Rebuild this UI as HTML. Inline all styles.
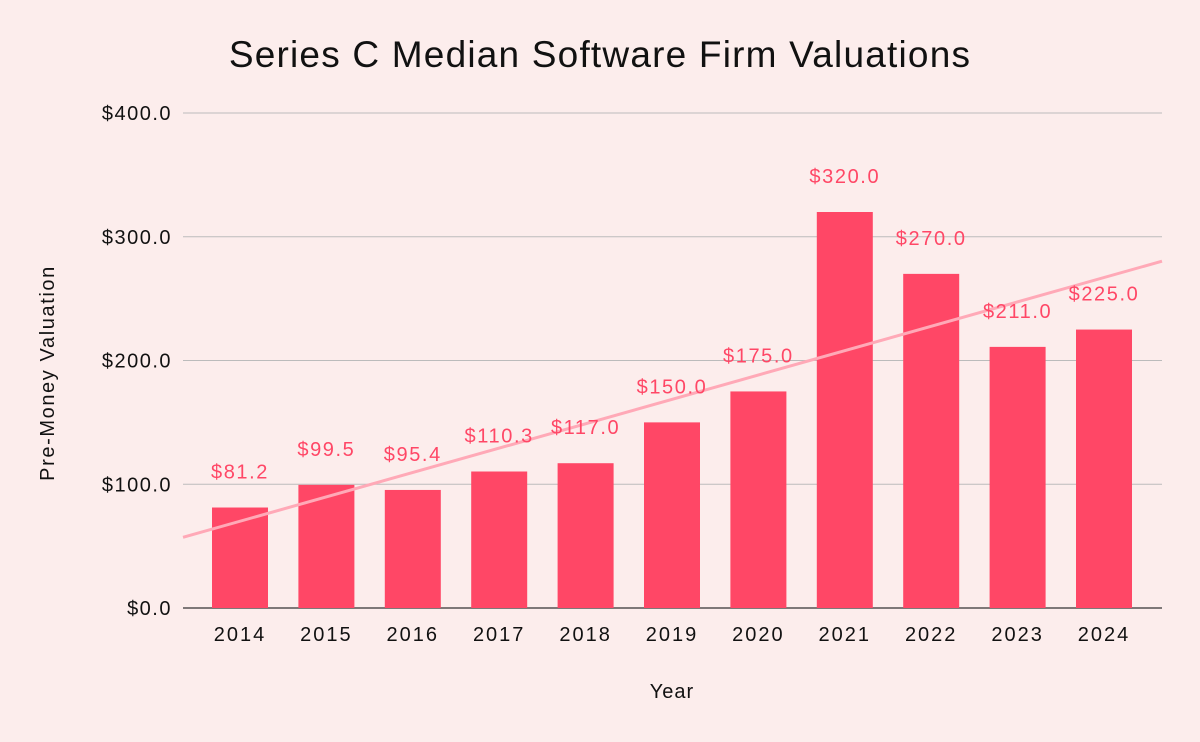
<!DOCTYPE html>
<html><head><meta charset="utf-8"><style>
body{margin:0;background:#fcedec;}
svg{display:block;font-family:"Liberation Sans",Arial,sans-serif;}
</style></head><body>
<svg id="chart" width="1200" height="742" viewBox="0 0 1200 742">
<rect width="1200" height="742" fill="#fcedec"/>
<text x="600" y="67" text-anchor="middle" font-size="37" letter-spacing="1.2" fill="#111">Series C Median Software Firm Valuations</text>
<text x="672" y="698" text-anchor="middle" font-size="20" letter-spacing="1" fill="#111">Year</text>
<text transform="translate(54,373) rotate(-90)" text-anchor="middle" font-size="20" letter-spacing="1.6" fill="#111">Pre-Money Valuation</text>
<g id="grid"></g><g id="bars"></g><g id="trend"></g><g id="labels"></g>
</svg>
<script>
const categories=["2014","2015","2016","2017","2018","2019","2020","2021","2022","2023","2024"];
const values=[81.2,99.5,95.4,110.3,117.0,150.0,175.0,320.0,270.0,211.0,225.0];
const yTicks=[0,100,200,300,400];
const NS="http://www.w3.org/2000/svg";
const L=183,R=1162,Y0=608,Y1=113,yMax=400;
const bandStart=196.8,band=86.4,barW=56;
const y=v=>Y0-(v/yMax)*(Y0-Y1);
const xc=i=>bandStart+band*(i+0.5);
function mk(tag,attrs,parent){const e=document.createElementNS(NS,tag);for(const k in attrs)e.setAttribute(k,attrs[k]);parent.appendChild(e);return e;}
const grid=document.getElementById('grid'),bars=document.getElementById('bars'),trend=document.getElementById('trend'),labels=document.getElementById('labels');
yTicks.forEach(t=>{
 const ln=mk('line',{x1:L,x2:R,y1:y(t),y2:y(t),stroke:t===0?'#333':'#bbb','stroke-width':t===0?1.3:1},grid);
 
 
 const tx=mk('text',{x:172,y:y(t)+7,'text-anchor':'end','font-size':20,'letter-spacing':1.5,fill:'#111'},grid);
 tx.textContent='$'+t.toFixed(1);
 
 
});
values.forEach((v,i)=>{
 const r=mk('rect',{x:xc(i)-barW/2,y:y(v),width:barW,height:Y0-y(v),fill:'#ff4766'},bars);
 
 
 const lb=mk('text',{x:xc(i),y:y(v)-29,'text-anchor':'middle','font-size':20,'letter-spacing':1.6,fill:'#ff4766'},labels);
 lb.textContent='$'+v.toFixed(1);
 
 
 const xt=mk('text',{x:xc(i),y:641,'text-anchor':'middle','font-size':20,'letter-spacing':2,fill:'#111'},labels);
 xt.textContent=categories[i];
 
 
});
const n=values.length,mx=(n-1)/2,my=values.reduce((a,b)=>a+b,0)/n;
let sxy=0,sxx=0;values.forEach((v,i)=>{sxy+=(i-mx)*(v-my);sxx+=(i-mx)*(i-mx);});
const slope=sxy/sxx;
const idx=px=>(px-bandStart)/band-0.5;
const tv=px=>my+slope*(idx(px)-mx);
const tl=mk('line',{x1:L,y1:y(tv(L)),x2:R,y2:y(tv(R)),stroke:'#ffa9b7','stroke-width':3},trend);


</script>
</body></html>
